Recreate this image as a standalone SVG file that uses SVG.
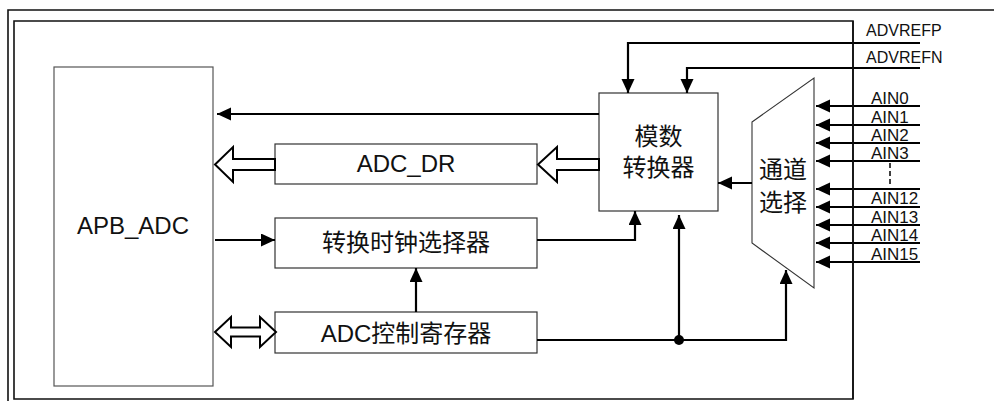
<svg xmlns="http://www.w3.org/2000/svg" width="994" height="401" viewBox="0 0 994 401">
<style>
.box{fill:#fff;stroke:#333;stroke-width:1.2}
.ln{fill:none;stroke:#000;stroke-width:2.2}
.holl{fill:#fff;stroke:#000;stroke-width:2;stroke-linejoin:miter}
.frame{fill:none;stroke:#111;stroke-width:1.6}
.t{font-family:"Liberation Sans","Noto Sans CJK SC",sans-serif;fill:#111;text-anchor:middle}
.big{font-size:24px}
.lbl{font-size:17px;text-anchor:start}
.ref{font-size:16px;text-anchor:start}
</style>
<defs>
<marker id="arr" markerUnits="userSpaceOnUse" markerWidth="15" markerHeight="14" refX="14" refY="6.5" orient="auto">
<path d="M0,0 L14,6.5 L0,13 z" fill="#000"/>
</marker>
</defs>
<rect width="994" height="401" fill="#fff"/>
<g id="frame">
<path class="frame" d="M8,401 V10 H994"/>
<path class="frame" d="M14,21 H853 V399 H14 z"/>
</g>
<g id="apb_adc">
<rect class="box" x="54" y="67" width="159" height="319" style="stroke:#555"/>
<text class="t big" x="133" y="234">APB_ADC</text>
</g>
<g id="adc_dr">
<rect class="box" x="275" y="144" width="262" height="40"/>
<text class="t big" x="406" y="172">ADC_DR</text>
</g>
<g id="converter">
<rect class="box" x="599" y="93" width="119" height="118"/>
<text class="t big" x="658.5" y="145">模数</text>
<text class="t big" x="658.5" y="176">转换器</text>
</g>
<g id="clock_sel">
<rect class="box" x="275" y="218" width="262" height="50"/>
<text class="t big" x="406" y="251">转换时钟选择器</text>
</g>
<g id="ctrl_reg">
<rect class="box" x="275" y="312" width="262" height="41"/>
<text class="t big" x="406" y="342">ADC控制寄存器</text>
</g>
<g id="mux">
<polygon points="752,122 814,78 814,288 752,243" fill="#fff" stroke="#333" stroke-width="1.1"/>
<text class="t big" x="783" y="178">通道</text>
<text class="t big" x="783" y="211">选择</text>
</g>
<g id="labels">
<text class="t ref" x="866" y="36">ADVREFP</text>
<text class="t ref" x="866" y="63">ADVREFN</text>
<text class="t lbl" x="871" y="104">AIN0</text>
<text class="t lbl" x="871" y="123">AIN1</text>
<text class="t lbl" x="871" y="141">AIN2</text>
<text class="t lbl" x="871" y="159">AIN3</text>
<text class="t lbl" x="871" y="204">AIN12</text>
<text class="t lbl" x="871" y="223">AIN13</text>
<text class="t lbl" x="871" y="241">AIN14</text>
<text class="t lbl" x="871" y="260">AIN15</text>
</g>
<g id="connectors">
<path class="ln" d="M599,114 H217" marker-end="url(#arr)"/>
<path class="ln" d="M920,43 H628 V93" marker-end="url(#arr)"/>
<path class="ln" d="M920,68 H687 V93" marker-end="url(#arr)"/>
<path class="ln" d="M752,183 H718" marker-end="url(#arr)"/>
<path class="ln" d="M215,240 H275" marker-end="url(#arr)"/>
<path class="ln" d="M537,240 H635 V211" marker-end="url(#arr)"/>
<path class="ln" d="M416,312 V268" marker-end="url(#arr)"/>
<path class="ln" d="M537,340 H786 V270" marker-end="url(#arr)"/>
<path class="ln" d="M679,340 V215" marker-end="url(#arr)"/>
<circle cx="679" cy="340" r="5" fill="#000"/>
<path class="ln" d="M920,106 H816" marker-end="url(#arr)"/>
<path class="ln" d="M920,125 H816" marker-end="url(#arr)"/>
<path class="ln" d="M920,143 H816" marker-end="url(#arr)"/>
<path class="ln" d="M920,161 H816" marker-end="url(#arr)"/>
<path class="ln" d="M920,189 H816" marker-end="url(#arr)"/>
<path class="ln" d="M920,207 H816" marker-end="url(#arr)"/>
<path class="ln" d="M920,225 H816" marker-end="url(#arr)"/>
<path class="ln" d="M920,243 H816" marker-end="url(#arr)"/>
<path class="ln" d="M920,262 H816" marker-end="url(#arr)"/>
<path d="M890,163 V186" stroke="#000" stroke-width="1.5" stroke-dasharray="5,3"/>
<polygon class="holl" points="275,159 233,159 233,147 215,164.5 233,182 233,170 275,170"/>
<polygon class="holl" points="599,159 557,159 557,147 538,164.5 557,182 557,170 599,170"/>
<polygon class="holl" points="215,332 231,317 231,327.5 260,327.5 260,317 276,332 260,347 260,336.5 231,336.5 231,347"/>
<path d="M853,21 V399" stroke="#111" stroke-width="1.6"/>
</g>
</svg>
